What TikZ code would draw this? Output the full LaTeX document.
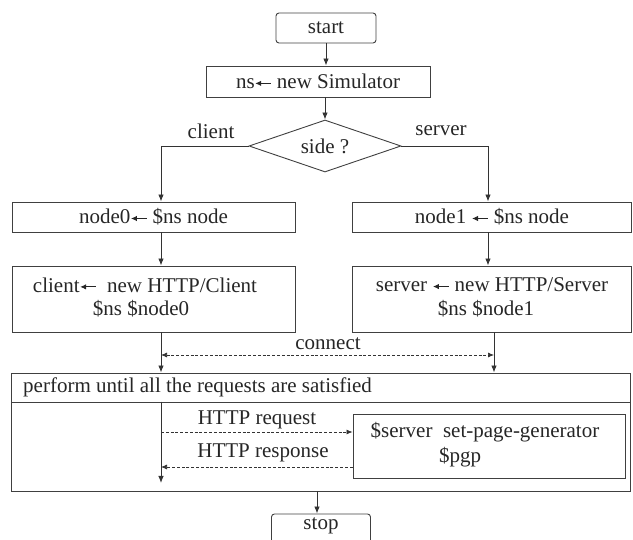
\documentclass[tikz,border=0pt]{standalone}
\usepackage{fontspec}
\setmainfont{Liberation Serif}
\usetikzlibrary{arrows.meta,shapes.geometric}
\newcommand{\larr}{\tikz[baseline=-0.55ex,x=1pt,y=1pt]\draw[line width=1pt,{Latex[length=6pt,width=5.5pt]}-] (0,0)--(16,0);}
\tikzset{
  box/.style={draw=black!75, line width=0.9pt, inner sep=0, rectangle, align=center,
              font=\fontsize{21}{24}\selectfont, text=black!85},
  lbl/.style={font=\fontsize{21}{24}\selectfont, inner sep=0, text=black!85},
  flow/.style={draw=black!80, line width=0.9pt, -{Latex[length=7pt,width=5.5pt]}},
  dflow/.style={draw=black!80, line width=0.7pt, dash pattern=on 3pt off 1.8pt}
}
\begin{document}
\begin{tikzpicture}[x=1pt,y=-1pt]
\useasboundingbox (0,0) rectangle (633,540);
% nodes
\node[box, rounded corners=3pt, minimum width=100pt, minimum height=30pt] (start) at (326,28) {start};
\node[box, minimum width=224pt, minimum height=31pt] (ns) at (318,81.5) {ns\larr{} new Simulator};
\node[box, diamond, shape aspect=2.9, minimum width=152pt, minimum height=52pt] (dia) at (325,146) {side ?};
\node[lbl] (lclient) at (211,131) {client};
\node[lbl] (lserver) at (441,131) {server};
\node[box, minimum width=283pt, minimum height=30pt] (node0) at (153.5,217) {node0\larr{} \$ns node};
\node[box, minimum width=279pt, minimum height=30pt] (node1) at (492,217) {node1 \larr{} \$ns node};
\node[box, minimum width=283pt, minimum height=66pt] (client) at (153.5,299) {};
\node[lbl] (ctext1) at (145,285) {client\larr\enspace new HTTP/Client};
\node[lbl] (ctext2) at (141,309) {\$ns \$node0};
\node[box, minimum width=279pt, minimum height=66pt] (server) at (492,299) {};
\node[lbl] (stext1) at (492,285) {server \larr{} new HTTP/Server};
\node[lbl] (stext2) at (486,309) {\$ns \$node1};
\node[box, minimum width=619pt, minimum height=29pt] (ptitle) at (320.5,387.5) {};
\node[lbl, anchor=west] (ptext) at (23,387) {perform until all the requests are satisfied};
\node[box, minimum width=619pt, minimum height=89pt] (pbody) at (320.5,446.5) {};
\node[box, minimum width=272pt, minimum height=64pt] (pgp) at (489,446) {};
\node[lbl] (gtext1) at (485,432) {\$server\ \ set-page-generator};
\node[lbl] (gtext2) at (460,457) {\$pgp};
\node[lbl] (lconnect) at (328,344) {connect};
\node[lbl] (lreq) at (257,420) {HTTP request};
\node[lbl] (lresp) at (263,453) {HTTP response};
\node[box, rounded corners=3pt, minimum width=99pt, minimum height=32pt] (stop) at (321,530) {};
\node[lbl] (stoptext) at (321,526) {stop};
% axes
\coordinate (LX) at (161,0);
\coordinate (RX) at (488,0);
\coordinate (RX2) at (494,0);
\coordinate (cL) at (161,355);
\coordinate (cR) at (494,355);
\coordinate (vEnd) at (161,483);
\coordinate (reqL) at (161,432);
\coordinate (respL) at (161,467);
\coordinate (SX) at (317,0);
% connectors
\draw[flow] (start.south) -- (start.south |- ns.north);
\draw[flow] (ns.south -| dia.north) -- (dia.north);
\draw[flow] (dia.west) -| (LX |- node0.north);
\draw[flow] (dia.east) -| (RX |- node1.north);
\draw[flow] (LX |- node0.south) -- (LX |- client.north);
\draw[flow] (RX |- node1.south) -- (RX |- server.north);
\draw[flow] (LX |- client.south) -- (LX |- ptitle.north);
\draw[flow] (RX2 |- server.south) -- (RX2 |- ptitle.north);
\draw[dflow, {Latex[length=6pt,width=5pt]}-{Latex[length=6pt,width=5pt]}] (cL) -- (cR);
\draw[flow] (LX |- pbody.north) -- (vEnd);
\draw[dflow, -{Latex[length=6pt,width=5pt]}] (reqL) -- (pgp.west |- reqL);
\draw[dflow, -{Latex[length=6pt,width=5pt]}] (pgp.west |- respL) -- (respL);
\draw[flow] (SX |- pbody.south) -- (SX |- stop.north);
\end{tikzpicture}
\end{document}
